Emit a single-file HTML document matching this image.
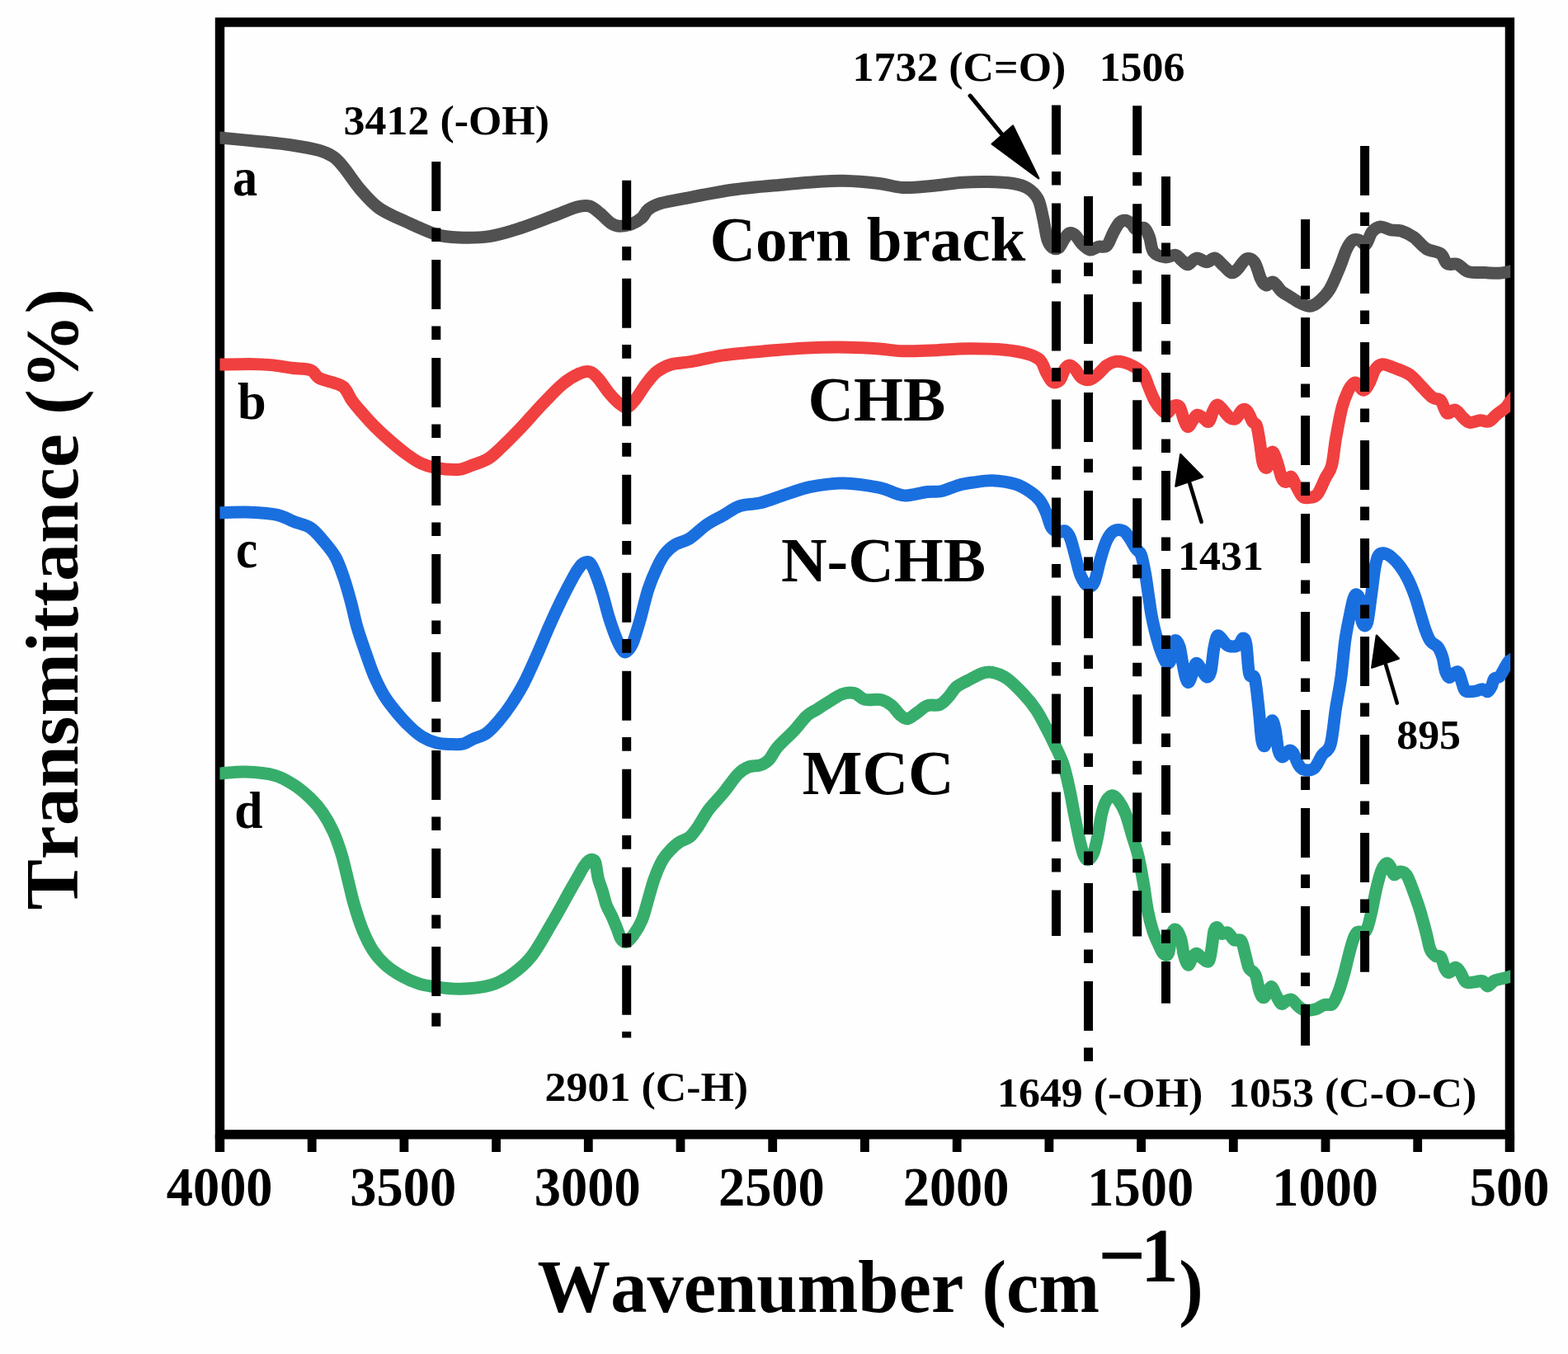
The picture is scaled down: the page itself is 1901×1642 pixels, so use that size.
<!DOCTYPE html>
<html lang="en">
<head>
<meta charset="utf-8">
<title>FTIR spectra</title>
<style>
html,body{margin:0;padding:0;background:#fefefe;}
body{width:1901px;height:1642px;overflow:hidden;}
svg{display:block;}
text{font-family:"Liberation Serif","Times New Roman",Times,serif;font-weight:bold;fill:#000;font-kerning:none;}
.c{fill:none;stroke-width:15;stroke-linejoin:round;stroke-linecap:butt;}
.d{fill:none;stroke:#000;stroke-width:11;stroke-dasharray:60 20.4 16.6 22;}
</style>
</head>
<body>
<svg width="1901" height="1642" viewBox="0 0 1901 1642">
<rect x="0" y="0" width="1901" height="1642" fill="#fefefe"/>
<g id="axes">
<rect x="266.5" y="27.0" width="1563.9" height="1348.8" fill="none" stroke="#000" stroke-width="11.4"/>
<rect x="260.8" y="1375.8" width="11.4" height="21.2" fill="#000"/>
<rect x="372.8" y="1375.8" width="10.8" height="21.2" fill="#000"/>
<rect x="484.5" y="1375.8" width="10.8" height="21.2" fill="#000"/>
<rect x="596.2" y="1375.8" width="10.8" height="21.2" fill="#000"/>
<rect x="707.9" y="1375.8" width="10.8" height="21.2" fill="#000"/>
<rect x="819.6" y="1375.8" width="10.8" height="21.2" fill="#000"/>
<rect x="931.3" y="1375.8" width="10.8" height="21.2" fill="#000"/>
<rect x="1043.0" y="1375.8" width="10.8" height="21.2" fill="#000"/>
<rect x="1154.8" y="1375.8" width="10.8" height="21.2" fill="#000"/>
<rect x="1266.5" y="1375.8" width="10.8" height="21.2" fill="#000"/>
<rect x="1378.2" y="1375.8" width="10.8" height="21.2" fill="#000"/>
<rect x="1489.9" y="1375.8" width="10.8" height="21.2" fill="#000"/>
<rect x="1601.6" y="1375.8" width="10.8" height="21.2" fill="#000"/>
<rect x="1713.3" y="1375.8" width="10.8" height="21.2" fill="#000"/>
<rect x="1824.7" y="1375.8" width="11.4" height="21.2" fill="#000"/>
</g>
<clipPath id="plot"><rect x="266.5" y="0" width="1564.7" height="1642"/></clipPath>
<g id="spectra" clip-path="url(#plot)">
<path class="c" stroke="#515151" d="M254.5 165.9C256.5 166.0 256.3 166.0 266.5 167.0C276.7 168.0 301.3 170.2 315.8 171.7C330.3 173.2 341.8 174.2 353.6 176.0C365.4 177.8 378.1 180.0 386.5 182.3C394.9 184.6 398.9 186.6 404.0 190.0C409.1 193.4 411.3 196.3 416.8 203.0C422.3 209.7 429.9 221.8 437.0 230.0C444.1 238.2 450.4 246.0 459.7 252.5C468.9 259.0 481.1 263.8 492.5 269.0C503.9 274.2 517.5 280.8 528.0 284.0C538.5 287.2 544.8 287.6 555.7 288.0C566.6 288.4 580.9 288.5 593.5 286.6C606.1 284.7 618.8 280.5 631.4 276.5C644.0 272.5 657.9 266.9 669.3 262.6C680.7 258.4 692.0 253.1 699.6 251.0C707.2 248.9 710.0 248.7 714.7 250.0C719.4 251.3 723.5 255.6 727.8 259.0C732.1 262.4 736.6 268.0 740.4 270.5C744.2 273.0 746.3 274.0 750.5 274.2C754.7 274.4 761.1 273.4 765.7 271.7C770.3 270.0 774.9 266.9 778.3 264.0C781.7 261.1 782.1 256.9 785.9 254.0C789.7 251.1 794.3 248.6 801.0 246.5C807.7 244.4 811.6 244.2 826.3 241.4C841.0 238.7 868.4 232.9 889.4 230.0C910.4 227.1 935.7 225.3 952.5 223.7C969.3 222.1 978.6 221.2 990.4 220.5C1002.1 219.8 1010.4 218.9 1023.0 219.2C1035.6 219.5 1054.2 221.1 1066.0 222.5C1077.8 223.9 1083.5 227.0 1094.0 227.5C1104.5 228.0 1116.8 226.6 1129.0 225.5C1141.2 224.4 1155.5 222.0 1167.0 221.2C1178.5 220.4 1187.7 220.3 1197.9 220.5C1208.1 220.7 1220.2 221.2 1228.2 222.5C1236.2 223.8 1240.9 225.1 1245.9 228.3C1251.0 231.5 1255.3 235.3 1258.5 241.5C1261.7 247.7 1262.9 257.1 1264.8 265.2C1266.7 273.3 1267.9 284.5 1269.8 290.4C1271.7 296.3 1273.9 298.8 1276.2 300.5C1278.5 302.2 1281.4 302.2 1283.7 300.5C1286.0 298.8 1287.9 293.3 1290.0 290.4C1292.1 287.4 1294.1 283.6 1296.4 282.8C1298.7 282.0 1301.4 283.3 1303.9 285.4C1306.4 287.5 1308.5 292.6 1311.5 295.5C1314.5 298.4 1318.2 302.4 1321.6 303.0C1325.0 303.6 1328.3 300.0 1331.7 299.2C1335.1 298.4 1338.8 300.7 1341.8 298.0C1344.8 295.3 1346.9 287.4 1349.4 282.8C1351.9 278.2 1354.5 272.8 1357.0 270.2C1359.5 267.6 1362.0 267.0 1364.5 267.2C1367.0 267.4 1369.9 269.7 1372.0 271.5C1374.1 273.3 1374.5 277.0 1377.0 277.8C1379.5 278.6 1384.5 274.8 1387.3 276.5C1390.1 278.2 1391.7 283.0 1393.6 287.9C1395.5 292.8 1395.4 301.6 1398.6 305.6C1401.8 309.6 1408.1 311.3 1412.5 311.9C1416.9 312.5 1421.8 308.7 1425.2 309.3C1428.6 309.9 1430.2 313.8 1432.7 315.7C1435.2 317.6 1437.3 321.1 1440.3 320.7C1443.2 320.3 1446.6 313.6 1450.4 313.1C1454.2 312.6 1459.2 317.7 1463.0 317.7C1466.8 317.7 1469.7 312.4 1473.1 313.1C1476.5 313.8 1479.8 319.1 1483.2 322.0C1486.6 324.9 1490.3 330.2 1493.3 330.8C1496.2 331.4 1498.0 328.6 1500.9 325.8C1503.9 323.0 1507.6 315.2 1511.0 313.9C1514.4 312.6 1518.1 314.1 1521.1 318.2C1524.0 322.3 1526.4 333.8 1528.7 338.4C1531.0 343.0 1532.5 345.4 1535.0 346.0C1537.5 346.6 1540.6 340.9 1543.8 342.2C1547.0 343.4 1550.5 350.6 1553.9 353.5C1557.3 356.4 1560.6 357.7 1564.0 359.8C1567.4 361.9 1570.3 364.3 1574.1 366.2C1577.9 368.1 1583.0 371.0 1586.8 371.2C1590.6 371.4 1592.7 370.8 1596.9 367.4C1601.1 364.0 1607.4 358.4 1612.0 351.0C1616.6 343.6 1621.2 331.2 1624.6 323.2C1628.0 315.2 1629.7 308.2 1632.2 303.0C1634.7 297.8 1637.1 293.6 1639.8 291.7C1642.5 289.8 1645.6 290.6 1648.3 291.4C1651.0 292.2 1653.4 298.2 1655.9 296.5C1658.4 294.8 1660.5 284.9 1663.4 281.3C1666.3 277.7 1669.7 275.4 1673.5 275.0C1677.3 274.6 1682.0 278.0 1686.2 278.8C1690.4 279.6 1694.2 278.5 1698.8 280.0C1703.4 281.5 1709.0 284.0 1714.0 287.6C1719.0 291.2 1723.5 298.1 1729.0 301.5C1734.5 304.9 1742.6 304.8 1746.8 307.8C1751.0 310.8 1750.9 317.6 1754.3 319.7C1757.7 321.8 1762.8 318.9 1767.0 320.5C1771.2 322.1 1774.1 327.6 1779.6 329.3C1785.1 331.0 1793.5 330.3 1799.8 330.6C1806.1 330.9 1812.5 331.5 1817.5 331.3C1822.5 331.1 1825.9 330.0 1830.0 329.3C1834.1 328.6 1840.0 327.7 1842.0 327.4"/>
<path class="c" stroke="#f14040" d="M254.5 442.3C256.5 442.3 258.4 442.3 266.5 442.1C274.6 441.9 292.8 441.3 303.1 441.4C313.4 441.5 320.0 441.8 328.4 442.6C336.8 443.4 345.6 445.2 353.6 446.2C361.6 447.2 370.9 446.7 376.4 448.7C381.9 450.7 382.3 455.9 386.5 458.3C390.7 460.7 396.6 461.4 401.6 463.3C406.7 465.2 412.6 465.8 416.8 469.6C421.0 473.4 423.1 480.7 426.9 486.0C430.7 491.3 434.9 495.9 439.5 501.2C444.1 506.5 449.1 512.1 454.6 517.6C460.1 523.1 466.0 528.5 472.3 534.0C478.6 539.5 486.2 545.9 492.5 550.5C498.8 555.1 504.3 559.0 510.2 561.8C516.1 564.6 520.3 566.1 527.9 567.4C535.5 568.7 548.6 569.8 555.7 569.4C562.9 569.0 564.9 566.9 570.8 564.8C576.7 562.7 585.1 560.2 591.0 556.8C596.9 553.3 599.5 550.4 606.2 544.1C612.9 537.8 623.0 527.7 631.4 518.9C639.8 510.1 648.3 499.9 656.7 491.1C665.1 482.3 674.3 472.2 681.9 465.9C689.5 459.6 696.6 455.7 702.1 453.2C707.6 450.7 710.9 449.8 714.7 450.7C718.5 451.6 721.1 454.4 725.0 458.6C728.9 462.8 733.6 470.9 737.9 476.0C742.1 481.1 746.7 486.0 750.5 489.0C754.3 492.0 757.2 494.8 760.6 494.0C764.0 493.2 767.0 488.7 770.7 484.0C774.4 479.3 778.8 471.5 783.0 466.0C787.2 460.5 790.9 455.0 796.0 451.0C801.1 447.0 806.4 444.1 813.6 442.0C820.8 439.9 828.5 440.3 839.0 438.4C849.5 436.5 862.1 432.9 876.8 430.8C891.5 428.7 910.2 427.3 927.0 425.8C943.8 424.3 961.0 422.8 977.8 422.0C994.6 421.2 1013.3 421.0 1028.0 421.2C1042.7 421.4 1055.0 422.2 1066.0 423.0C1077.0 423.8 1083.5 425.5 1094.0 425.8C1104.5 426.1 1115.5 425.5 1129.0 425.0C1142.5 424.5 1159.9 422.8 1174.7 422.7C1189.5 422.6 1206.1 423.1 1218.0 424.2C1229.9 425.3 1238.7 427.1 1245.9 429.2C1253.1 431.3 1257.2 433.0 1261.0 436.8C1264.8 440.6 1266.1 447.6 1268.6 452.0C1271.1 456.4 1273.5 461.8 1276.2 463.3C1278.9 464.8 1282.5 463.5 1285.0 460.8C1287.5 458.1 1289.2 449.9 1291.3 447.0C1293.4 444.1 1295.5 442.9 1297.6 443.1C1299.7 443.3 1301.6 445.7 1303.9 448.2C1306.2 450.7 1308.5 456.3 1311.5 458.3C1314.5 460.3 1318.2 461.2 1321.6 460.3C1325.0 459.4 1328.3 456.1 1331.7 453.2C1335.1 450.3 1338.4 445.5 1341.8 443.1C1345.2 440.7 1348.5 439.2 1351.9 438.6C1355.3 438.0 1358.2 438.3 1362.0 439.3C1365.8 440.3 1370.6 442.1 1374.6 444.4C1378.6 446.7 1383.0 449.2 1386.0 453.2C1389.0 457.2 1390.0 462.9 1392.3 468.4C1394.6 473.9 1397.4 481.4 1399.9 486.0C1402.4 490.6 1405.0 493.7 1407.5 496.2C1410.0 498.7 1412.5 501.8 1415.0 501.2C1417.5 500.6 1420.1 493.7 1422.6 492.4C1425.1 491.1 1428.1 490.9 1430.2 493.6C1432.3 496.3 1433.6 504.8 1435.3 508.8C1437.0 512.8 1438.4 517.6 1440.3 517.6C1442.2 517.6 1444.7 511.2 1446.6 508.8C1448.5 506.4 1449.8 503.6 1451.7 503.2C1453.6 502.8 1455.7 504.9 1458.0 506.3C1460.3 507.7 1463.5 512.6 1465.6 511.3C1467.7 510.0 1468.9 502.1 1470.6 498.7C1472.3 495.3 1473.8 491.5 1475.7 491.1C1477.6 490.7 1479.5 493.7 1482.0 496.2C1484.5 498.7 1488.1 504.4 1490.8 506.3C1493.5 508.2 1495.9 509.0 1498.4 507.5C1500.9 506.0 1503.7 498.9 1506.0 497.4C1508.3 495.9 1510.2 496.4 1512.3 498.7C1514.4 501.0 1516.7 508.4 1518.6 511.3C1520.5 514.2 1522.1 512.2 1523.6 516.4C1525.1 520.6 1526.1 529.0 1527.4 536.6C1528.7 544.2 1529.7 556.8 1531.2 561.8C1532.7 566.8 1534.8 568.6 1536.3 566.9C1537.8 565.2 1538.8 554.7 1540.0 551.7C1541.2 548.7 1542.3 547.0 1543.8 548.7C1545.3 550.4 1547.2 556.7 1548.9 561.8C1550.6 566.9 1552.2 575.7 1553.9 579.5C1555.6 583.3 1557.1 584.7 1559.0 584.5C1560.9 584.3 1563.2 577.4 1565.3 578.2C1567.4 579.1 1569.3 585.6 1571.6 589.6C1573.9 593.6 1576.7 599.9 1579.2 602.2C1581.7 604.5 1583.8 603.9 1586.8 603.5C1589.8 603.1 1593.5 603.7 1596.9 599.7C1600.3 595.7 1604.0 585.4 1607.0 579.5C1610.0 573.6 1612.5 572.3 1614.6 564.3C1616.7 556.3 1617.5 543.3 1619.6 531.5C1621.7 519.7 1624.7 503.3 1627.2 493.6C1629.7 483.9 1632.6 478.0 1634.7 473.4C1636.8 468.8 1638.2 467.4 1639.8 465.9C1641.4 464.4 1642.2 463.2 1644.5 464.4C1646.8 465.6 1650.6 473.4 1653.3 473.2C1656.0 473.0 1658.6 467.3 1660.9 463.1C1663.2 458.9 1664.7 451.6 1667.2 448.0C1669.7 444.4 1672.4 442.1 1676.0 441.7C1679.6 441.3 1683.2 443.4 1688.7 445.5C1694.2 447.6 1703.0 450.3 1708.9 454.3C1714.8 458.3 1719.4 464.8 1724.0 469.4C1728.6 474.0 1732.9 479.2 1736.7 482.0C1740.5 484.8 1743.9 482.7 1746.8 485.9C1749.7 489.1 1751.4 499.1 1754.3 501.0C1757.2 502.9 1761.0 496.1 1764.4 497.2C1767.8 498.2 1771.6 504.8 1774.5 507.3C1777.4 509.8 1778.6 512.0 1782.0 512.4C1785.4 512.8 1790.9 510.0 1794.7 509.8C1798.5 509.6 1801.4 512.4 1804.8 511.1C1808.2 509.9 1811.6 505.0 1815.0 502.3C1818.4 499.6 1822.5 497.0 1825.0 494.7C1827.5 492.4 1827.2 492.0 1830.0 488.4C1832.8 484.8 1840.0 475.8 1842.0 473.3"/>
<path class="c" stroke="#1a6fdf" d="M254.5 621.9C256.5 621.8 258.4 621.8 266.5 621.7C274.6 621.6 291.5 620.8 303.1 621.2C314.7 621.7 327.1 622.5 336.0 624.4C344.9 626.3 349.5 629.9 356.2 632.5C362.9 635.1 370.5 636.3 376.4 640.1C382.3 643.9 386.4 649.4 391.5 655.3C396.6 661.2 402.5 667.9 406.7 675.5C410.9 683.1 413.7 691.6 416.8 700.7C419.9 709.8 422.8 720.3 425.5 730.3C428.2 740.3 430.1 750.5 433.0 760.6C435.9 770.7 439.7 781.2 443.1 790.9C446.5 800.6 449.4 809.9 453.2 818.7C457.0 827.5 461.3 836.3 465.9 843.9C470.5 851.5 475.9 858.0 481.0 864.1C486.1 870.2 491.1 875.8 496.2 880.6C501.2 885.5 505.8 889.8 511.3 893.2C516.8 896.6 523.1 899.2 529.0 900.8C534.9 902.3 541.2 902.3 546.7 902.5C552.2 902.7 557.2 903.1 561.8 902.0C566.4 900.9 569.8 897.8 574.4 895.7C579.0 893.6 584.5 893.0 589.6 889.4C594.7 885.8 599.7 880.1 604.7 874.2C609.8 868.3 614.9 861.6 619.9 854.0C624.9 846.4 630.0 838.5 635.0 828.8C640.0 819.1 645.1 807.4 650.2 796.0C655.3 784.6 660.4 772.0 665.4 760.6C670.4 749.2 675.5 738.1 680.5 727.8C685.5 717.4 691.9 705.4 695.7 698.5C699.5 691.6 701.3 689.2 703.5 686.5C705.7 683.8 707.0 682.9 709.0 682.3C711.0 681.6 713.1 680.6 715.2 682.6C717.3 684.6 719.0 688.2 721.5 694.4C724.0 700.6 727.6 710.9 730.3 719.7C733.0 728.6 735.2 738.7 737.9 747.5C740.6 756.3 744.0 766.0 746.7 772.7C749.4 779.4 752.2 785.0 754.3 787.9C756.4 790.8 757.2 791.7 759.3 790.4C761.4 789.1 764.1 786.6 766.9 780.3C769.6 774.0 772.6 763.5 775.8 752.5C779.0 741.5 782.5 725.1 785.9 714.6C789.3 704.1 792.6 696.5 796.0 689.4C799.4 682.2 802.3 676.5 806.1 671.7C809.9 666.9 813.7 663.5 818.7 660.4C823.8 657.2 830.1 656.8 836.4 652.8C842.7 648.8 849.9 641.0 856.6 636.4C863.3 631.8 870.1 628.8 876.8 625.0C883.5 621.2 889.4 616.1 897.0 613.6C904.6 611.1 913.0 612.1 922.2 609.8C931.5 607.5 942.4 602.9 952.5 599.7C962.6 596.5 971.0 592.7 982.8 590.4C994.6 588.1 1009.3 585.7 1023.2 585.9C1037.1 586.1 1055.7 589.3 1066.2 591.4C1076.7 593.5 1080.9 596.9 1086.4 598.5C1091.9 600.1 1092.7 601.3 1099.0 601.0C1105.3 600.7 1117.0 597.4 1124.2 596.5C1131.4 595.6 1135.6 596.9 1141.9 595.5C1148.2 594.1 1155.7 590.1 1162.1 588.4C1168.5 586.6 1173.4 585.9 1180.2 585.0C1187.0 584.1 1194.6 582.5 1203.0 582.8C1211.4 583.1 1223.1 584.8 1230.7 587.0C1238.3 589.2 1243.4 592.6 1248.4 596.0C1253.5 599.4 1257.6 602.9 1261.0 607.3C1264.4 611.7 1266.3 616.9 1268.6 622.4C1270.9 627.9 1272.5 636.2 1275.0 640.0C1277.5 643.8 1281.0 644.6 1283.7 645.2C1286.4 645.9 1289.0 642.6 1291.3 643.9C1293.6 645.1 1295.5 647.4 1297.6 652.7C1299.7 658.0 1301.9 667.9 1304.0 675.5C1306.1 683.1 1307.8 692.3 1310.3 698.2C1312.8 704.1 1316.3 709.5 1319.0 710.8C1321.7 712.1 1324.2 711.3 1326.7 705.8C1329.2 700.3 1331.7 686.4 1334.2 678.0C1336.7 669.6 1339.0 661.0 1341.8 655.3C1344.5 649.6 1347.3 645.8 1350.7 643.9C1354.1 642.0 1358.8 642.4 1362.0 643.9C1365.2 645.4 1367.1 649.1 1369.6 652.7C1372.1 656.3 1374.9 662.0 1377.2 665.4C1379.5 668.8 1381.6 667.8 1383.5 672.9C1385.4 678.0 1387.0 687.7 1388.5 695.7C1390.0 703.7 1391.0 712.5 1392.3 720.9C1393.6 729.3 1394.6 738.2 1396.1 746.2C1397.6 754.2 1399.3 761.7 1401.2 768.9C1403.1 776.1 1405.2 783.5 1407.3 789.2C1409.4 794.9 1411.7 801.0 1413.6 803.1C1415.5 805.2 1417.4 805.0 1418.7 801.8C1420.0 798.6 1420.2 788.3 1421.2 784.1C1422.2 779.9 1423.5 776.6 1425.0 776.6C1426.5 776.6 1428.5 779.5 1430.0 784.1C1431.5 788.7 1432.5 798.0 1433.8 804.3C1435.1 810.6 1436.3 818.2 1437.6 822.0C1438.9 825.8 1439.9 828.4 1441.4 827.1C1442.9 825.8 1445.0 818.2 1446.5 814.4C1448.0 810.6 1448.6 804.7 1450.3 804.3C1452.0 803.9 1454.5 809.1 1456.6 811.9C1458.7 814.6 1461.0 820.4 1462.9 820.8C1464.8 821.2 1466.4 820.1 1467.9 814.4C1469.4 808.7 1470.4 793.9 1471.7 786.7C1473.0 779.6 1474.0 773.6 1475.5 771.5C1477.0 769.4 1478.7 772.3 1480.6 774.0C1482.5 775.7 1484.6 779.9 1486.9 781.6C1489.2 783.3 1491.9 784.1 1494.4 784.1C1496.9 784.1 1499.9 783.3 1502.0 781.6C1504.1 779.9 1505.6 774.0 1507.1 774.0C1508.6 774.0 1509.7 774.4 1510.9 781.6C1512.2 788.8 1512.9 810.3 1514.6 817.0C1516.3 823.7 1519.3 817.0 1521.0 822.0C1522.7 827.0 1523.7 838.9 1524.7 847.3C1525.8 855.7 1526.5 864.1 1527.3 872.5C1528.1 880.9 1528.8 892.5 1529.8 897.8C1530.8 903.1 1532.1 906.2 1533.6 904.1C1535.1 902.0 1537.1 890.2 1538.6 885.2C1540.1 880.2 1541.1 873.8 1542.4 873.8C1543.7 873.8 1544.9 879.1 1546.2 885.2C1547.5 891.3 1548.5 904.9 1550.0 910.4C1551.5 915.9 1552.9 918.0 1555.0 918.0C1557.1 918.0 1560.5 911.2 1562.6 910.4C1564.7 909.5 1565.8 910.2 1567.7 912.9C1569.6 915.6 1571.9 923.4 1574.0 926.8C1576.1 930.2 1577.1 932.2 1580.3 933.1C1583.5 934.0 1589.1 934.8 1592.9 931.9C1596.7 929.0 1599.6 920.4 1603.0 915.5C1606.4 910.6 1610.4 912.1 1613.1 902.8C1615.8 893.5 1617.3 873.4 1619.4 859.9C1621.5 846.4 1623.9 835.9 1625.8 822.0C1627.7 808.1 1629.1 788.8 1630.8 776.6C1632.5 764.4 1634.2 757.2 1635.9 748.8C1637.6 740.4 1639.4 730.7 1640.9 726.1C1642.4 721.5 1643.4 720.6 1644.7 721.0C1646.0 721.4 1647.9 723.5 1648.9 728.4C1649.9 733.3 1649.7 745.5 1650.5 750.5C1651.3 755.5 1652.5 757.6 1653.7 758.4C1654.9 759.2 1656.4 759.2 1657.6 755.2C1658.8 751.2 1659.8 742.1 1660.8 734.7C1661.8 727.3 1662.9 718.9 1663.9 711.0C1665.0 703.1 1665.9 693.5 1667.1 687.3C1668.3 681.1 1669.3 676.6 1671.0 673.9C1672.7 671.1 1674.7 670.5 1677.3 670.8C1679.9 671.1 1683.4 672.8 1686.8 675.5C1690.2 678.2 1694.4 682.7 1697.8 687.3C1701.2 691.9 1704.4 697.3 1707.3 703.1C1710.2 708.9 1712.8 715.5 1715.2 722.1C1717.6 728.7 1719.4 735.8 1721.5 742.6C1723.6 749.4 1725.7 757.3 1727.8 763.1C1729.9 768.9 1731.5 773.6 1734.1 777.3C1736.7 781.0 1741.1 781.8 1743.6 785.2C1746.1 788.6 1747.6 793.1 1749.1 797.8C1750.5 802.5 1751.0 809.6 1752.3 813.6C1753.6 817.6 1755.3 821.0 1757.0 821.5C1758.7 822.0 1760.7 817.8 1762.5 816.7C1764.3 815.7 1766.5 813.6 1768.1 815.2C1769.7 816.8 1770.7 822.5 1772.0 826.2C1773.3 829.9 1774.4 835.2 1776.0 837.3C1777.6 839.4 1779.3 838.7 1781.5 838.8C1783.7 838.9 1786.8 838.5 1789.4 838.0C1792.0 837.5 1794.9 835.6 1797.3 835.7C1799.7 835.8 1801.8 839.3 1803.6 838.8C1805.4 838.3 1807.0 835.1 1808.3 832.5C1809.6 829.9 1809.9 825.1 1811.5 823.1C1813.1 821.1 1815.7 822.8 1817.8 820.7C1819.9 818.6 1822.3 813.4 1824.1 810.4C1825.9 807.4 1827.6 804.1 1828.8 802.5C1830.0 800.9 1828.6 802.6 1831.0 801.0C1833.4 799.4 1841.0 794.2 1843.0 792.8"/>
<path class="c" stroke="#37ad6b" d="M254.5 938.6C256.5 938.5 259.2 938.3 266.5 937.9C273.8 937.5 286.9 935.7 298.0 936.1C309.1 936.5 323.7 937.8 333.4 940.4C343.1 943.0 349.0 947.2 356.2 951.8C363.4 956.4 370.5 962.5 376.4 968.2C382.3 973.9 386.9 979.2 391.5 985.9C396.1 992.6 400.3 1000.2 404.1 1008.6C407.9 1017.0 411.2 1026.7 414.2 1036.4C417.1 1046.1 419.3 1056.6 421.8 1066.7C424.3 1076.8 426.4 1086.9 429.4 1097.0C432.3 1107.1 435.7 1118.0 439.5 1127.3C443.3 1136.5 447.5 1145.3 452.1 1152.5C456.7 1159.7 461.4 1164.9 467.3 1170.2C473.2 1175.5 480.8 1180.3 487.5 1184.1C494.2 1187.9 501.0 1190.8 507.7 1192.9C514.4 1195.0 519.5 1195.7 527.9 1196.7C536.3 1197.8 547.3 1199.5 558.2 1199.2C569.1 1198.9 583.4 1197.7 593.5 1195.0C603.6 1192.3 610.4 1188.6 618.8 1182.8C627.2 1177.0 635.6 1170.7 644.0 1160.1C652.4 1149.5 661.7 1131.8 669.3 1119.0C676.9 1106.2 684.4 1092.1 689.5 1083.0C694.6 1073.9 696.9 1069.9 700.0 1064.5C703.1 1059.1 705.7 1054.0 708.0 1050.5C710.3 1047.0 712.2 1044.8 714.0 1043.5C715.8 1042.2 717.2 1042.0 718.5 1042.5C719.8 1043.0 720.9 1042.7 722.0 1046.5C723.1 1050.3 723.9 1059.7 725.3 1065.4C726.7 1071.1 728.6 1075.0 730.3 1080.5C732.0 1086.0 733.5 1093.2 735.4 1098.2C737.3 1103.2 739.6 1106.2 741.7 1110.8C743.8 1115.4 746.1 1121.4 748.0 1126.0C749.9 1130.6 751.1 1135.9 753.0 1138.6C754.9 1141.3 756.8 1143.2 759.3 1142.4C761.8 1141.6 765.0 1137.9 768.2 1133.5C771.4 1129.1 775.3 1123.1 778.3 1115.9C781.2 1108.8 783.4 1099.0 785.9 1090.6C788.4 1082.2 790.5 1073.4 793.4 1065.4C796.3 1057.4 800.1 1048.5 803.5 1042.6C806.9 1036.7 810.2 1033.6 813.6 1030.0C817.0 1026.4 819.9 1023.7 823.7 1021.2C827.5 1018.7 832.6 1018.0 836.4 1014.8C840.2 1011.6 842.7 1007.7 846.5 1002.2C850.3 996.7 854.1 988.7 859.1 982.0C864.1 975.3 870.9 968.9 876.8 961.8C882.7 954.6 889.3 944.4 894.4 939.1C899.5 933.9 902.5 932.2 907.1 930.3C911.7 928.4 918.0 929.2 922.2 927.7C926.4 926.2 928.9 925.0 932.3 921.4C935.7 917.8 937.3 912.2 942.4 906.3C947.5 900.4 956.7 892.4 962.6 886.1C968.5 879.8 973.2 872.7 977.8 868.4C982.4 864.1 985.8 863.2 990.4 860.3C995.0 857.3 1000.5 853.8 1005.6 850.7C1010.7 847.6 1015.7 843.6 1020.7 841.9C1025.8 840.2 1031.3 839.5 1035.9 840.6C1040.5 841.7 1043.0 846.9 1048.5 848.2C1054.0 849.6 1063.2 847.4 1068.7 848.7C1074.2 850.0 1077.5 852.7 1081.3 855.8C1085.1 858.9 1088.2 864.5 1091.4 867.1C1094.6 869.8 1096.9 872.1 1100.3 871.7C1103.7 871.3 1107.6 867.2 1111.6 864.6C1115.6 862.0 1119.6 857.5 1124.2 855.8C1128.8 854.1 1135.2 856.2 1139.4 854.5C1143.6 852.8 1146.1 849.3 1149.5 845.7C1152.9 842.1 1155.7 836.4 1159.6 833.0C1163.5 829.6 1167.6 828.2 1172.8 825.5C1178.0 822.8 1185.5 818.3 1190.5 816.6C1195.5 814.9 1198.0 814.4 1203.1 815.4C1208.1 816.4 1214.5 818.5 1220.8 822.9C1227.1 827.3 1235.1 835.6 1241.0 841.9C1246.9 848.2 1251.6 853.9 1256.2 860.8C1260.8 867.7 1265.0 876.4 1268.8 883.5C1272.6 890.6 1275.5 896.5 1278.9 903.7C1282.3 910.9 1286.0 917.6 1289.0 926.5C1292.0 935.4 1294.3 946.3 1296.6 956.8C1298.9 967.3 1300.8 979.1 1302.9 989.6C1305.0 1000.1 1307.3 1011.9 1309.2 1019.9C1311.1 1027.9 1312.5 1033.8 1314.2 1037.6C1315.9 1041.4 1317.4 1043.0 1319.3 1042.6C1321.2 1042.2 1323.7 1039.6 1325.6 1035.0C1327.5 1030.4 1329.0 1022.8 1330.7 1014.8C1332.4 1006.8 1334.0 994.2 1335.7 987.1C1337.4 980.0 1338.7 975.6 1340.8 971.9C1342.9 968.2 1345.8 965.0 1348.3 964.8C1350.8 964.6 1353.2 967.0 1355.9 970.7C1358.6 974.4 1362.0 980.2 1364.7 987.1C1367.4 994.0 1369.8 1003.9 1372.3 1012.3C1374.8 1020.7 1377.6 1027.9 1379.9 1037.6C1382.2 1047.3 1384.3 1059.5 1386.2 1070.4C1388.1 1081.3 1389.4 1093.5 1391.3 1103.2C1393.2 1112.9 1395.5 1121.8 1397.6 1128.5C1399.7 1135.2 1401.8 1139.0 1403.9 1143.6C1406.0 1148.2 1408.1 1154.2 1410.2 1156.3C1412.3 1158.4 1414.8 1160.1 1416.5 1156.3C1418.2 1152.5 1418.8 1138.3 1420.3 1133.5C1421.8 1128.7 1423.5 1126.4 1425.4 1127.2C1427.3 1128.0 1430.0 1133.3 1431.7 1138.6C1433.4 1143.9 1434.0 1153.5 1435.5 1158.8C1437.0 1164.1 1438.8 1169.8 1440.5 1170.2C1442.2 1170.6 1443.9 1163.6 1445.6 1161.3C1447.3 1159.0 1448.5 1156.1 1450.6 1156.3C1452.7 1156.5 1455.7 1161.1 1458.2 1162.6C1460.7 1164.1 1463.9 1167.8 1465.8 1165.1C1467.7 1162.4 1468.5 1152.3 1469.5 1146.2C1470.5 1140.1 1471.0 1132.1 1472.1 1128.5C1473.2 1124.9 1474.4 1124.1 1475.9 1124.7C1477.4 1125.3 1478.8 1131.2 1480.9 1132.3C1483.0 1133.3 1486.0 1129.8 1488.5 1131.0C1491.0 1132.2 1493.4 1138.1 1496.1 1139.8C1498.8 1141.5 1502.6 1137.9 1504.9 1141.1C1507.2 1144.3 1508.4 1153.2 1510.0 1158.8C1511.6 1164.3 1512.4 1170.5 1514.4 1174.4C1516.4 1178.3 1519.9 1177.4 1522.0 1182.0C1524.1 1186.6 1525.4 1197.6 1527.1 1202.2C1528.8 1206.8 1530.2 1210.2 1532.1 1209.8C1534.0 1209.4 1536.7 1201.8 1538.4 1199.7C1540.1 1197.6 1540.7 1195.9 1542.2 1197.2C1543.7 1198.5 1545.4 1203.9 1547.3 1207.3C1549.2 1210.7 1551.5 1216.4 1553.6 1217.4C1555.7 1218.5 1557.8 1214.4 1559.9 1213.6C1562.0 1212.8 1563.7 1211.0 1566.2 1212.3C1568.7 1213.6 1572.3 1219.1 1575.0 1221.2C1577.7 1223.3 1579.2 1224.6 1582.6 1225.0C1586.0 1225.4 1591.4 1224.8 1595.2 1223.7C1599.0 1222.6 1601.9 1219.6 1605.3 1218.6C1608.7 1217.5 1612.5 1220.1 1615.4 1217.4C1618.4 1214.7 1620.7 1208.1 1623.0 1202.2C1625.3 1196.3 1627.2 1189.6 1629.3 1182.0C1631.4 1174.4 1633.7 1164.0 1635.6 1156.8C1637.5 1149.6 1639.0 1143.5 1640.7 1139.1C1642.4 1134.7 1643.3 1132.0 1645.8 1130.3C1648.3 1128.6 1653.2 1132.6 1655.9 1129.0C1658.6 1125.4 1660.1 1117.2 1662.2 1108.8C1664.3 1100.4 1666.4 1087.3 1668.5 1078.5C1670.6 1069.7 1672.7 1061.1 1674.8 1055.8C1676.9 1050.5 1679.2 1047.5 1681.1 1046.9C1683.0 1046.3 1684.7 1049.7 1686.2 1052.0C1687.7 1054.3 1688.1 1060.0 1690.0 1060.8C1691.9 1061.6 1695.0 1057.0 1697.5 1057.0C1700.0 1057.0 1702.6 1057.2 1705.1 1060.8C1707.6 1064.4 1710.0 1071.3 1712.7 1078.5C1715.4 1085.7 1718.8 1094.9 1721.5 1103.7C1724.2 1112.5 1727.0 1123.5 1729.1 1131.5C1731.2 1139.5 1732.2 1147.1 1734.1 1151.7C1736.0 1156.3 1738.3 1157.8 1740.4 1159.3C1742.5 1160.8 1744.9 1158.1 1746.8 1160.6C1748.7 1163.1 1750.1 1171.2 1751.8 1174.4C1753.5 1177.6 1754.8 1179.7 1756.9 1179.5C1759.0 1179.3 1762.1 1173.2 1764.4 1173.2C1766.7 1173.2 1768.6 1176.5 1770.7 1179.5C1772.8 1182.5 1774.3 1189.0 1777.1 1190.9C1779.8 1192.8 1783.8 1191.1 1787.2 1190.9C1790.6 1190.7 1794.6 1188.8 1797.3 1189.6C1800.0 1190.4 1801.3 1195.9 1803.6 1195.9C1805.9 1195.9 1808.5 1191.1 1811.2 1189.6C1813.9 1188.1 1816.9 1187.9 1820.0 1187.1C1823.1 1186.2 1826.3 1185.5 1830.0 1184.5C1833.7 1183.5 1840.0 1181.9 1842.0 1181.4"/>
</g>
<g id="markers">
<line class="d" x1="528.8" y1="196.0" x2="528.8" y2="1244.7"/>
<line class="d" x1="759.7" y1="218.7" x2="759.7" y2="1258.5"/>
<line class="d" x1="1280.5" y1="127.5" x2="1280.5" y2="1135.0"/>
<line class="d" x1="1319.5" y1="238.1" x2="1319.5" y2="1287.0"/>
<line class="d" x1="1378.7" y1="128.3" x2="1378.7" y2="1135.6"/>
<line class="d" x1="1413.5" y1="214.0" x2="1413.5" y2="1216.7"/>
<line class="d" x1="1582.6" y1="266.0" x2="1582.6" y2="1268.0"/>
<line class="d" x1="1654.6" y1="177.0" x2="1654.6" y2="1178.7"/>
</g>
<g id="arrows">
<line x1="1176.2" y1="116.2" x2="1215.3" y2="163.6" stroke="#000" stroke-width="5.2" stroke-linecap="round"/>
<polygon points="1259.2,216.2 1202.7,174.6 1228.0,152.6" fill="#000" stroke="#000" stroke-width="2.4" stroke-linejoin="round"/>
<line x1="1456.6" y1="633.0" x2="1441.7" y2="584.0" stroke="#000" stroke-width="4.6" stroke-linecap="round"/>
<polygon points="1431.3,551.0 1425.4,589.6 1458.0,578.3" fill="#000" stroke="#000" stroke-width="2.4" stroke-linejoin="round"/>
<line x1="1693.8" y1="852.6" x2="1679.5" y2="804.2" stroke="#000" stroke-width="4.6" stroke-linecap="round"/>
<polygon points="1668.9,770.7 1663.3,809.6 1695.8,798.7" fill="#000" stroke="#000" stroke-width="2.4" stroke-linejoin="round"/>
</g>
<g id="labels">
<text transform="translate(416.59 162.90) scale(1.0180 1)" font-size="51.0">3412 (-OH)</text>
<text transform="translate(1033.53 97.50) scale(1.0180 1)" font-size="51.0">1732 (C=O)</text>
<text transform="translate(1332.66 97.50) scale(1.0180 1)" font-size="51.0">1506</text>
<text transform="translate(1428.05 691.10) scale(1.0180 1)" font-size="51.0">1431</text>
<text transform="translate(1693.20 907.90) scale(1.0180 1)" font-size="51.0">895</text>
<text transform="translate(660.62 1335.00) scale(1.0180 1)" font-size="51.0">2901 (C-H)</text>
<text transform="translate(1208.99 1341.80) scale(1.0180 1)" font-size="51.0">1649 (-OH)</text>
<text transform="translate(1489.09 1342.40) scale(1.0180 1)" font-size="51.0">1053 (C-O-C)</text>
<text transform="translate(860.45 316.00) scale(1.0000 1)" font-size="77.0">Corn brack</text>
<text transform="translate(979.51 510.00) scale(1.0000 1)" font-size="77.0">CHB</text>
<text transform="translate(946.88 705.00) scale(1.0000 1)" font-size="77.0">N-CHB</text>
<text transform="translate(972.73 963.10) scale(1.0000 1)" font-size="77.0">MCC</text>
<text transform="translate(281.96 236.50) scale(0.9138 1)" font-size="66.0">a</text>
<text transform="translate(288.01 508.40) scale(0.9755 1)" font-size="64.0">b</text>
<text transform="translate(285.98 688.40) scale(0.8939 1)" font-size="66.0">c</text>
<text transform="translate(284.20 1003.60) scale(0.9634 1)" font-size="64.0">d</text>
<text transform="translate(201.67 1462.00) scale(0.9480 1)" font-size="68.0">4000</text>
<text transform="translate(424.25 1462.00) scale(0.9480 1)" font-size="68.0">3500</text>
<text transform="translate(647.85 1462.00) scale(0.9480 1)" font-size="68.0">3000</text>
<text transform="translate(870.91 1462.00) scale(0.9480 1)" font-size="68.0">2500</text>
<text transform="translate(1094.66 1462.00) scale(0.9480 1)" font-size="68.0">2000</text>
<text transform="translate(1318.28 1462.00) scale(0.9480 1)" font-size="68.0">1500</text>
<text transform="translate(1542.18 1462.00) scale(0.9480 1)" font-size="68.0">1000</text>
<text transform="translate(1781.69 1462.00) scale(0.9480 1)" font-size="68.0">500</text>
</g>
<g id="titles">
<text transform="translate(651.56 1591.00) scale(0.9630 1)" font-size="92">Wavenumber (cm<tspan dx="-2" dy="-32.9" font-size="106">−</tspan><tspan dx="-6.1" dy="-4.1" font-size="94">1</tspan><tspan dx="0.7" dy="37">)</tspan></text>
<text transform="translate(94.20 1103.57) rotate(-90) scale(1.0000 1)" font-size="92">Transmittance (%)</text>
</g>
</svg>
</body>
</html>
